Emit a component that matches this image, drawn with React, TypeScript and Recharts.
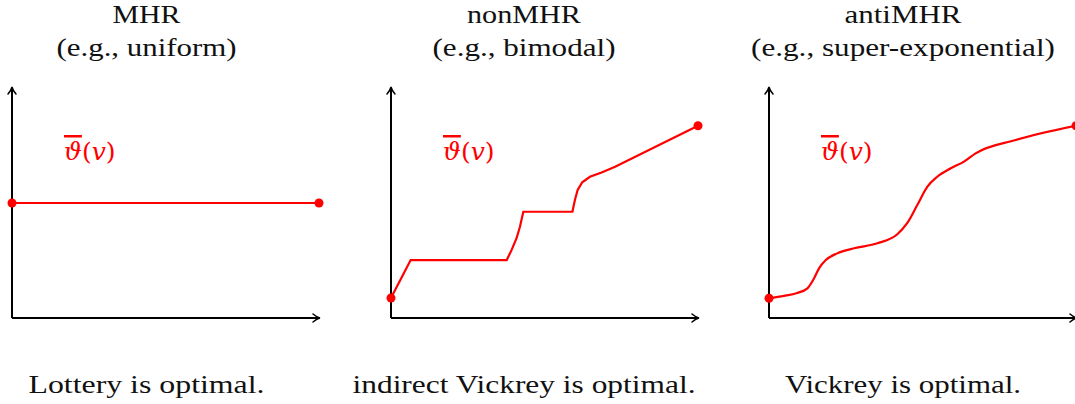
import React from 'react'
import { LineChart, Line, XAxis, YAxis, ReferenceDot, ReferenceLine } from 'recharts'

// curve samples (x and y both on 0..1)
const mhrX = [0, 1]
const mhrY = [0.5, 0.5]

const nonMhrX = [0, 0.064, 0.377, 0.393, 0.409, 0.42, 0.431, 0.591, 0.599, 0.608, 0.623, 0.648, 0.686, 0.73, 1.0]
const nonMhrY = [0.087, 0.252, 0.252, 0.296, 0.347, 0.397, 0.462, 0.462, 0.513, 0.557, 0.59, 0.614, 0.633, 0.658, 0.836]

const antiMhrX = [0, 0.049, 0.092, 0.125, 0.147, 0.163, 0.185, 0.222, 0.277, 0.353, 0.418, 0.45, 0.483, 0.516, 0.548, 0.592, 0.635, 0.673, 0.804, 1.0]
const antiMhrY = [0.086, 0.096, 0.109, 0.129, 0.173, 0.216, 0.252, 0.281, 0.303, 0.325, 0.364, 0.412, 0.491, 0.571, 0.614, 0.651, 0.68, 0.716, 0.774, 0.836]

const titles = ['MHR', 'nonMHR', 'antiMHR']
const subtitles = ['(e.g., uniform)', '(e.g., bimodal)', '(e.g., super-exponential)']
const captions = ['Lottery is optimal.', 'indirect Vickrey is optimal.', 'Vickrey is optimal.']

const RED = '#ff0000'
const FONT = '"Liberation Serif", "DejaVu Serif", serif'

const toRows = (xs: number[], ys: number[]) => xs.map((x, i) => ({ x, y: ys[i] }))

const ArrowRight = (p: any) => (
  <path
    d={`M${p.cx - 6},${p.cy - 4} Q${p.cx - 2},${p.cy - 0.6} ${p.cx + 1},${p.cy} Q${p.cx - 2},${p.cy + 0.6} ${p.cx - 6},${p.cy + 4}`}
    fill="none" stroke="#000" strokeWidth={1.5} strokeLinecap="round"
  />
)
const ArrowUp = (p: any) => (
  <path
    d={`M${p.cx - 4},${p.cy + 6} Q${p.cx - 0.6},${p.cy + 2} ${p.cx},${p.cy - 1} Q${p.cx + 0.6},${p.cy + 2} ${p.cx + 4},${p.cy + 6}`}
    fill="none" stroke="#000" strokeWidth={1.5} strokeLinecap="round"
  />
)

interface PanelProps { xs: number[]; ys: number[]; left: number; curve: 'linear' | 'monotone' }

function Panel({ xs, ys, left, curve }: PanelProps) {
  const rows = toRows(xs, ys)
  const last = rows.length - 1
  return (
    <div style={{ position: 'absolute', left: left - 20, top: 0 }}>
      <LineChart width={360} height={404} data={rows} margin={{ top: 88, bottom: 86, left: 20, right: 33 }}>
        <XAxis dataKey="x" type="number" domain={[0, 1]} hide />
        <YAxis type="number" domain={[0, 1]} hide />
        <ReferenceLine segment={[{ x: 0, y: 0 }, { x: 1, y: 0 }]} stroke="#000" strokeWidth={2} ifOverflow="visible" />
        <ReferenceLine segment={[{ x: 0, y: 0 }, { x: 0, y: 1 }]} stroke="#000" strokeWidth={2} ifOverflow="visible" />
        <ReferenceDot x={1} y={0} r={0} ifOverflow="visible" shape={ArrowRight} />
        <ReferenceDot x={0} y={1} r={0} ifOverflow="visible" shape={ArrowUp} />
        <Line
          dataKey="y" type={curve} stroke={RED} strokeWidth={2.2} isAnimationActive={false}
          dot={(p: any) => (p.index === 0 || p.index === last)
            ? <circle key={p.index} cx={p.cx} cy={p.cy} r={4.5} fill={RED} />
            : <g key={p.index} />}
          activeDot={false}
        />
      </LineChart>
    </div>
  )
}

const panelLeft = [12, 391, 769]
const centers = [146.5, 524, 903]
const titleW = [68, 114, 117]
const subW = [180, 183, 304]
const capW = [236, 343, 236]

export default function App() {
  return (
    <div style={{ position: 'absolute', left: 0, top: 0, width: 1075, height: 404, overflow: 'hidden', background: '#fff' }}>
      <Panel xs={mhrX} ys={mhrY} left={panelLeft[0]} curve="linear" />
      <Panel xs={nonMhrX} ys={nonMhrY} left={panelLeft[1]} curve="linear" />
      <Panel xs={antiMhrX} ys={antiMhrY} left={panelLeft[2]} curve="monotone" />
      <svg width={1075} height={404} style={{ position: 'absolute', left: 0, top: 0, pointerEvents: 'none' }}>
        {titles.map((t, i) => (
          <g key={t} style={{ fontFamily: FONT }} fontSize={26} fill="#111" textAnchor="middle">
            <text x={centers[i]} y={23} textLength={titleW[i]} lengthAdjust="spacingAndGlyphs">{t}</text>
            <text x={centers[i]} y={56} textLength={subW[i]} lengthAdjust="spacingAndGlyphs">{subtitles[i]}</text>
            <text x={centers[i]} y={393} textLength={capW[i]} lengthAdjust="spacingAndGlyphs">{captions[i]}</text>
            <text x={panelLeft[i] + 52} y={160} textAnchor="start" fill={RED} fontSize={25}
              style={{ fontFamily: '"DejaVu Serif", serif' }}>
              <tspan fontStyle="italic" style={{ textDecoration: 'overline' }}>{'\u03D1'}</tspan>
              <tspan fontWeight={300}>(</tspan>
              <tspan fontStyle="italic">v</tspan>
              <tspan>)</tspan>
            </text>
          </g>
        ))}
      </svg>
    </div>
  )
}
